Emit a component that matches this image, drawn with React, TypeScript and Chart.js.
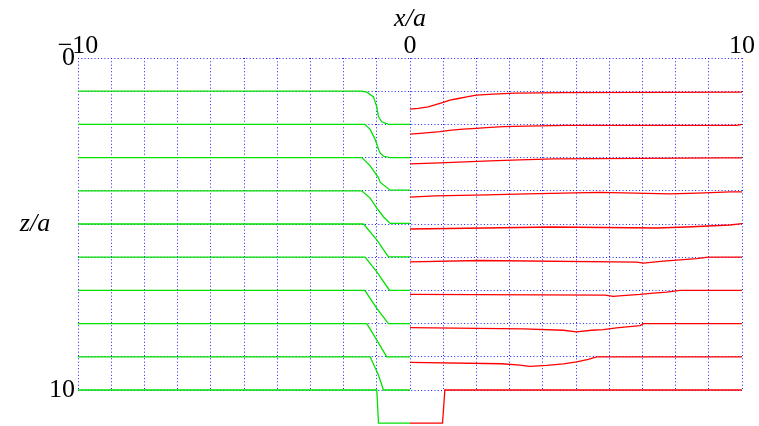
import React, { useEffect, useRef } from "react";
import { Chart, registerables } from "chart.js";

Chart.register(...registerables);

// Tick labels
const xTickLabels: Record<number, string> = { [-10]: "\u221210", 0: "0", 10: "10" };
const zTickLabels: Record<number, string> = { 0: "0", 10: "10" };
const xTitle = "x/a";
const zTitle = "z/a";

// Green curves (x < 0): [x, z]
const green1 = [[-10, 1], [-1.45, 1], [-1.3, 1.03], [-1.1, 1.17], [-1.0, 1.47], [-0.95, 1.77], [-0.85, 1.92], [-0.65, 2.0], [0, 2.0]];
const green2 = [[-10, 2], [-1.36, 2], [-1.2, 2.15], [-1.05, 2.45], [-0.95, 2.75], [-0.9, 2.86], [-0.8, 2.96], [-0.6, 3.0], [0, 3.0]];
const green3 = [[-10, 3], [-1.45, 3], [-1.2, 3.25], [-0.95, 3.6], [-0.9, 3.74], [-0.6, 3.98], [0, 3.98]];
const green4 = [[-10, 4], [-1.45, 4], [-1.2, 4.22], [-1.0, 4.52], [-0.8, 4.78], [-0.6, 4.98], [0, 4.98]];
const green5 = [[-10, 5], [-1.4, 5], [-1.0, 5.48], [-0.65, 5.99], [0, 5.99]];
const green6 = [[-10, 6], [-1.35, 6], [-1.0, 6.44], [-0.65, 6.95], [-0.6, 7.0], [0, 7.0]];
const green7 = [[-10, 7], [-1.36, 7], [-1.0, 7.54], [-0.65, 8.0], [0, 8.0]];
const green8 = [[-10, 8], [-1.3, 8], [-1.0, 8.5], [-0.7, 9.0], [0, 9.0]];
const green9 = [[-10, 9], [-1.2, 9], [-0.95, 9.55], [-0.8, 10.0], [0, 10.0]];
const green10 = [[-10, 10], [-1.0, 10], [-0.95, 11.0], [0, 11.0]];

// Red curves (x > 0): [x, z]
const red1 = [[0, 1.54], [0.25, 1.52], [0.55, 1.47], [0.8, 1.4], [1.0, 1.34], [1.2, 1.27], [1.46, 1.22], [1.71, 1.17], [2.0, 1.12], [2.5, 1.09], [3.16, 1.06], [4.6, 1.04], [10, 1.03]];
const red2 = [[0, 2.29], [0.4, 2.26], [0.9, 2.22], [1.25, 2.17], [1.6, 2.14], [2.0, 2.12], [2.3, 2.1], [2.8, 2.07], [3.5, 2.05], [4.7, 2.03], [9.84, 2.03], [10, 2.0]];
const red3 = [[0, 3.19], [0.9, 3.16], [1.66, 3.13], [2.41, 3.1], [3.31, 3.07], [4.32, 3.04], [9.44, 3.01], [10, 3.01]];
const red4 = [[0, 4.19], [0.75, 4.15], [2.31, 4.12], [3.51, 4.09], [5.72, 4.05], [7.83, 4.09], [8.88, 4.06], [9.64, 4.03], [10, 4.03]];
const red5 = [[0, 5.15], [2.26, 5.12], [4.27, 5.09], [7.43, 5.12], [8.33, 5.09], [8.98, 5.06], [9.64, 5.03], [10, 4.99]];
const red6 = [[0, 6.14], [2.11, 6.1], [6.83, 6.15], [7.03, 6.18], [7.63, 6.12], [8.23, 6.07], [8.63, 6.04], [8.98, 6.0], [10, 6.0]];
const red7 = [[0, 7.12], [5.87, 7.14], [6.12, 7.18], [6.4, 7.16], [6.93, 7.12], [7.33, 7.08], [7.73, 7.05], [8.13, 7.0], [10, 7.0]];
const red8 = [[0, 8.12], [3.41, 8.16], [4.62, 8.2], [5.02, 8.25], [5.47, 8.2], [5.82, 8.18], [6.22, 8.13], [6.53, 8.1], [6.93, 8.06], [7.03, 8.0], [10, 8.0]];
const red9 = [[0, 9.17], [2.76, 9.21], [3.31, 9.25], [3.61, 9.29], [4.12, 9.26], [4.62, 9.21], [5.02, 9.15], [5.37, 9.08], [5.62, 9.0], [10, 9.0]];
const red10 = [[0, 11], [0.98, 11], [1.05, 10], [10, 10]];

const greens = [green1, green2, green3, green4, green5, green6, green7, green8, green9, green10];
const reds = [red1, red2, red3, red4, red5, red6, red7, red8, red9, red10];

const GREEN = "rgb(0,225,0)";
const RED = "rgb(255,0,0)";
const GRID = "rgb(30,30,255)";
const FONT = "'Liberation Serif', 'DejaVu Serif', serif";

const titlesPlugin = {
  id: "axisTitles",
  afterDraw(chart: any) {
    const ctx = chart.ctx;
    ctx.save();
    ctx.fillStyle = "#000";
    ctx.font = `italic 26px ${FONT}`;
    ctx.textAlign = "center";
    ctx.textBaseline = "alphabetic";
    const xs = chart.scales.x;
    const ys = chart.scales.y;
    ctx.fillText(xTitle, xs.getPixelForValue(0), 26);
    ctx.fillText(zTitle, 35, ys.getPixelForValue(5) + 7);
    ctx.restore();
  },
};

export default function App() {
  const ref = useRef<HTMLCanvasElement | null>(null);
  useEffect(() => {
    if (!ref.current) return;
    const toPts = (arr: number[][]) => arr.map(([x, y]) => ({ x, y }));
    const datasets: any[] = [];
    greens.forEach((g) =>
      datasets.push({ data: toPts(g), borderColor: GREEN, borderWidth: 1.3, showLine: true, pointRadius: 0, clip: false, tension: 0 })
    );
    reds.forEach((r) =>
      datasets.push({ data: toPts(r), borderColor: RED, borderWidth: 1.3, showLine: true, pointRadius: 0, clip: false, tension: 0 })
    );
    const chart = new Chart(ref.current, {
      type: "scatter",
      data: { datasets },
      options: {
        animation: false,
        responsive: false,
        layout: { padding: { left: 0, top: 0, right: 17, bottom: 36 } },
        plugins: { legend: { display: false }, tooltip: { enabled: false } },
        scales: {
          x: {
            type: "linear",
            position: "top",
            min: -10,
            max: 10,
            afterFit: (s: any) => { s.height = 58; },
            grid: { color: GRID, lineWidth: 1, drawTicks: false },
            border: { display: false, dash: [1, 2.3] },
            ticks: {
              stepSize: 1,
              autoSkip: false,
              maxRotation: 0,
              padding: -4,
              color: "#000",
              font: { family: FONT, size: 26 },
              callback: (v: any) => (xTickLabels[v] !== undefined ? xTickLabels[v] : ""),
            },
          },
          y: {
            type: "linear",
            reverse: true,
            min: 0,
            max: 10,
            afterFit: (s: any) => { s.width = 78; },
            grid: { color: GRID, lineWidth: 1, drawTicks: false },
            border: { display: false, dash: [1, 2.3] },
            ticks: {
              stepSize: 1,
              autoSkip: false,
              padding: 3,
              color: "#000",
              font: { family: FONT, size: 26 },
              callback: (v: any) => (zTickLabels[v] !== undefined ? zTickLabels[v] : ""),
            },
          },
        },
      },
      plugins: [titlesPlugin],
    } as any);
    return () => chart.destroy();
  }, []);
  return (
    <div style={{ position: "absolute", left: 0, top: 0, width: 759, height: 426 }}>
      <canvas ref={ref} width={759} height={426} style={{ display: "block" }} />
    </div>
  );
}
